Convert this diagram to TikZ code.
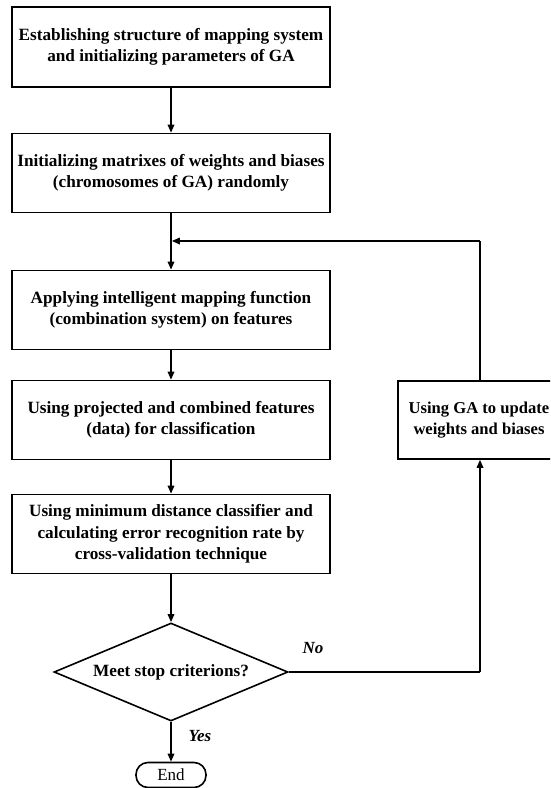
\documentclass[tikz,border=0pt]{standalone}
\usepackage{fontspec}
\setmainfont{Liberation Serif}
\usetikzlibrary{shapes.geometric,arrows.meta}

\tikzset{
  boxfont/.style={font=\fontsize{17.2}{21.5}\selectfont\bfseries},
  stepbox/.style={draw, line width=1.6pt, rectangle, minimum width=318pt,
    minimum height=79pt, inner sep=0pt, align=center, boxfont},
  gabox/.style={stepbox, minimum width=162pt, minimum height=78pt,
    font=\fontsize{16.6}{21.5}\selectfont\bfseries},
  decision/.style={draw, line width=1.6pt, diamond, aspect=2.39,
    minimum width=234pt, minimum height=98pt, inner sep=0pt, align=center,
    boxfont},
  terminal/.style={draw, line width=1.6pt, rectangle, rounded corners=12pt,
    minimum width=70pt, minimum height=25pt, inner sep=0pt,
    font=\fontsize{17}{20}\selectfont},
  flow/.style={line width=1.6pt, -{Triangle[length=8pt,width=6.5pt]}},
  plain/.style={line width=1.6pt},
  branch/.style={font=\fontsize{17}{20}\selectfont\bfseries\itshape}
}

\begin{document}
\begin{tikzpicture}[x=1pt,y=-1pt]
  \clip (0,0) rectangle (550,788);
  \fill[white] (0,0) rectangle (550,788);

  % main column of steps
  \node[stepbox, minimum height=80pt] (s1) at (171,47)
    {Establishing structure of mapping system\\and initializing parameters of GA};
  \node[stepbox] (s2) at (171,173)
    {Initializing matrixes of weights and biases\\(chromosomes of GA) randomly};
  \node[stepbox] (s3) at (171,310)
    {Applying intelligent mapping function\\(combination system) on features};
  \node[stepbox] (s4) at (171,420)
    {Using projected and combined features\\(data) for classification};
  \node[stepbox] (s5) at (171,534)
    {Using minimum distance classifier and\\calculating error recognition rate by\\cross-validation technique};
  \node[decision] (d) at (171,672) {Meet stop criterions?};
  \node[terminal] (e) at (171,775) {End};

  % update step on the right, running off the right edge
  \node[gabox] (ga) at (479,420) {Using GA to update\\weights and biases};

  % loop-back junction points
  \coordinate (j) at (171,241);
  \coordinate (r) at (480,241);
  \coordinate (dr) at (480,672);

  % connectors
  \draw[flow] (s1) -- (s2);
  \draw[flow] (s2) -- (s3);
  \draw[flow] (s3) -- (s4);
  \draw[flow] (s4) -- (s5);
  \draw[flow] (s5) -- (d);
  \draw[flow] (d) -- (e);
  \draw[plain] (d.east) -- (dr);
  \draw[flow] (dr) -- (dr |- ga.south);
  \draw[plain] (r |- ga.north) -- (r);
  \draw[flow] (r) -- ([xshift=0.8pt]j);

  % branch labels
  \node[branch] (no) at (313,648) {No};
  \node[branch] (yes) at (200,736) {Yes};
\end{tikzpicture}
\end{document}
